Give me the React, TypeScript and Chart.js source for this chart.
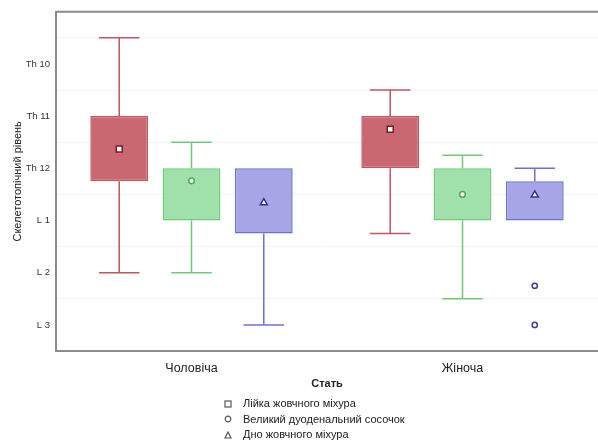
import React, { useEffect, useRef } from "react";
import { Chart, registerables } from "chart.js";

Chart.register(...registerables);

const categories = ["Чоловіча", "Жіноча"];
const seriesNames = [
  "Лійка жовчного міхура",
  "Великий дуоденальний сосочок",
  "Дно жовчного міхура",
];
// y scale: Th10=10, Th11=11, Th12=12, L1=13, L2=14, L3=15
const tickNames: Record<number, string> = {
  10: "Th 10",
  11: "Th 11",
  12: "Th 12",
  13: "L 1",
  14: "L 2",
  15: "L 3",
};
const whiskerTop = [
  [9.5, 10.5],
  [11.5, 11.75],
  [12, 12],
];
const boxTop = [
  [11, 11],
  [12, 12],
  [12, 12.25],
];
const boxBottom = [
  [12.25, 12],
  [13, 13],
  [13.25, 13],
];
const whiskerBottom = [
  [14, 13.25],
  [14, 14.5],
  [15, 13],
];
const means = [
  [11.63, 11.25],
  [12.24, 12.5],
  [12.65, 12.5],
];
// outliers: [seriesIndex, categoryIndex, value]
const outliers: [number, number, number][] = [
  [2, 1, 14.25],
  [2, 1, 15],
];

const fills = ["rgb(201,104,112)", "rgb(160,224,170)", "rgb(166,166,230)"];
const strokes = ["rgb(196,84,96)", "rgb(112,200,124)", "rgb(112,112,212)"];
const markerStrokes = ["rgb(120,30,40)", "rgb(80,170,90)", "rgb(50,50,140)"];
const markerShapes = ["square", "circle", "triangle"];

const boxPlugin = {
  id: "boxExtras",
  afterDatasetsDraw(chart: any) {
    const ctx = chart.ctx;
    const y = chart.scales.y;
    const area = chart.chartArea;
    ctx.save();
    ctx.strokeStyle = "#8a8a8a";
    ctx.lineWidth = 2;
    ctx.beginPath();
    ctx.moveTo(area.left, area.top);
    ctx.lineTo(area.right, area.top);
    ctx.stroke();

    chart.data.datasets.forEach((ds: any, d: number) => {
      const meta = chart.getDatasetMeta(d);
      meta.data.forEach((el: any, i: number) => {
        const cx = el.x;
        const w = el.width;
        const cap = w * 0.7;
        ctx.strokeStyle = strokes[d];
        ctx.lineWidth = 1.5;
        const yT = y.getPixelForValue(whiskerTop[d][i]);
        const yBT = y.getPixelForValue(boxTop[d][i]);
        const yBB = y.getPixelForValue(boxBottom[d][i]);
        const yB = y.getPixelForValue(whiskerBottom[d][i]);
        if (whiskerTop[d][i] < boxTop[d][i]) {
          ctx.beginPath();
          ctx.moveTo(cx, yBT);
          ctx.lineTo(cx, yT);
          ctx.moveTo(cx - cap / 2, yT);
          ctx.lineTo(cx + cap / 2, yT);
          ctx.stroke();
        }
        if (whiskerBottom[d][i] > boxBottom[d][i]) {
          ctx.beginPath();
          ctx.moveTo(cx, yBB);
          ctx.lineTo(cx, yB);
          ctx.moveTo(cx - cap / 2, yB);
          ctx.lineTo(cx + cap / 2, yB);
          ctx.stroke();
        }
        const my = y.getPixelForValue(means[d][i]);
        ctx.fillStyle = "#ffffff";
        ctx.strokeStyle = markerStrokes[d];
        ctx.lineWidth = 1.5;
        ctx.beginPath();
        if (markerShapes[d] === "square") {
          ctx.rect(cx - 3, my - 3, 6, 6);
        } else if (markerShapes[d] === "circle") {
          ctx.arc(cx, my, 2.8, 0, Math.PI * 2);
        } else {
          ctx.moveTo(cx, my - 3.5);
          ctx.lineTo(cx + 3.5, my + 2.5);
          ctx.lineTo(cx - 3.5, my + 2.5);
          ctx.closePath();
        }
        ctx.fill();
        ctx.stroke();
      });
    });
    outliers.forEach(([d, i, v]) => {
      const el = chart.getDatasetMeta(d).data[i];
      const py = y.getPixelForValue(v);
      ctx.fillStyle = "#ffffff";
      ctx.strokeStyle = "rgb(60,60,150)";
      ctx.lineWidth = 1.5;
      ctx.beginPath();
      ctx.arc(el.x, py, 2.6, 0, Math.PI * 2);
      ctx.fill();
      ctx.stroke();
    });
    ctx.restore();
  },
};

function Marker({ shape }: { shape: string }) {
  return (
    <svg width="8" height="8" style={{ display: "block" }}>
      {shape === "square" && (
        <rect x="1" y="1" width="6" height="6" fill="#fff" stroke="#555" strokeWidth="1.2" />
      )}
      {shape === "circle" && <circle cx="4" cy="4" r="2.8" fill="#fff" stroke="#555" strokeWidth="1.2" />}
      {shape === "triangle" && (
        <polygon points="4,1 7,7 1,7" fill="#fff" stroke="#555" strokeWidth="1.2" />
      )}
    </svg>
  );
}

export default function App() {
  const ref = useRef<HTMLCanvasElement>(null);
  useEffect(() => {
    document.body.style.margin = "0";
    const chart = new Chart(ref.current as HTMLCanvasElement, {
      type: "bar",
      data: {
        labels: categories,
        datasets: seriesNames.map((name, d) => ({
          label: name,
          data: categories.map((_, i) => [boxTop[d][i], boxBottom[d][i]] as any),
          backgroundColor: fills[d],
          borderColor: strokes[d],
          borderWidth: 1.5,
          borderSkipped: false,
          categoryPercentage: 0.8,
          barPercentage: 0.8,
        })),
      },
      options: {
        animation: false,
        responsive: false,
        layout: { padding: { top: 8, bottom: 52, left: 0, right: 0 } },
        plugins: { legend: { display: false }, tooltip: { enabled: false } },
        scales: {
          x: {
            grid: { display: false },
            border: { color: "#8a8a8a", width: 2 },
            ticks: {
              color: "#222",
              font: { family: "Liberation Sans", size: 12.5 },
              padding: 2,
            },
            title: {
              display: true,
              text: "Стать",
              color: "#222",
              font: { family: "Liberation Sans", size: 11, weight: "bold" },
              padding: { top: 1, bottom: 0 },
            },
            afterFit: (s: any) => {
              s.height = 40;
            },
          },
          y: {
            reverse: true,
            min: 9,
            max: 15.5,
            border: { color: "#8a8a8a", width: 2 },
            grid: {
              color: (c: any) =>
                c.tick && Math.abs(c.tick.value % 1) > 0.25 ? "rgba(0,0,0,0.045)" : "rgba(0,0,0,0)",
              drawTicks: false,
            },
            ticks: {
              stepSize: 0.5,
              autoSkip: false,
              color: "#333",
              padding: 6,
              font: { family: "Liberation Sans", size: 9.5 },
              callback: (v: any) => tickNames[v as number] ?? "",
            },
            title: {
              display: true,
              text: "Скелетотопічний рівень",
              color: "#222",
              font: { family: "Liberation Sans", size: 11 },
              padding: { top: 11, bottom: 0 },
            },
            afterFit: (s: any) => {
              s.width = 56;
            },
          },
        },
      },
      plugins: [boxPlugin],
    } as any);
    return () => chart.destroy();
  }, []);

  return (
    <div style={{ position: "relative", width: 598, height: 443 }}>
      <canvas ref={ref} width={598} height={443} style={{ display: "block" }} />
      <div
        style={{
          position: "absolute",
          left: 224,
          top: 396,
          fontFamily: "Liberation Sans, Arial, sans-serif",
          fontSize: 11,
          color: "#222",
          lineHeight: "15.5px",
        }}
      >
        {seriesNames.map((n, d) => (
          <div key={n} style={{ display: "flex", alignItems: "center" }}>
            <Marker shape={markerShapes[d]} />
            <span style={{ marginLeft: 11 }}>{n}</span>
          </div>
        ))}
      </div>
    </div>
  );
}
